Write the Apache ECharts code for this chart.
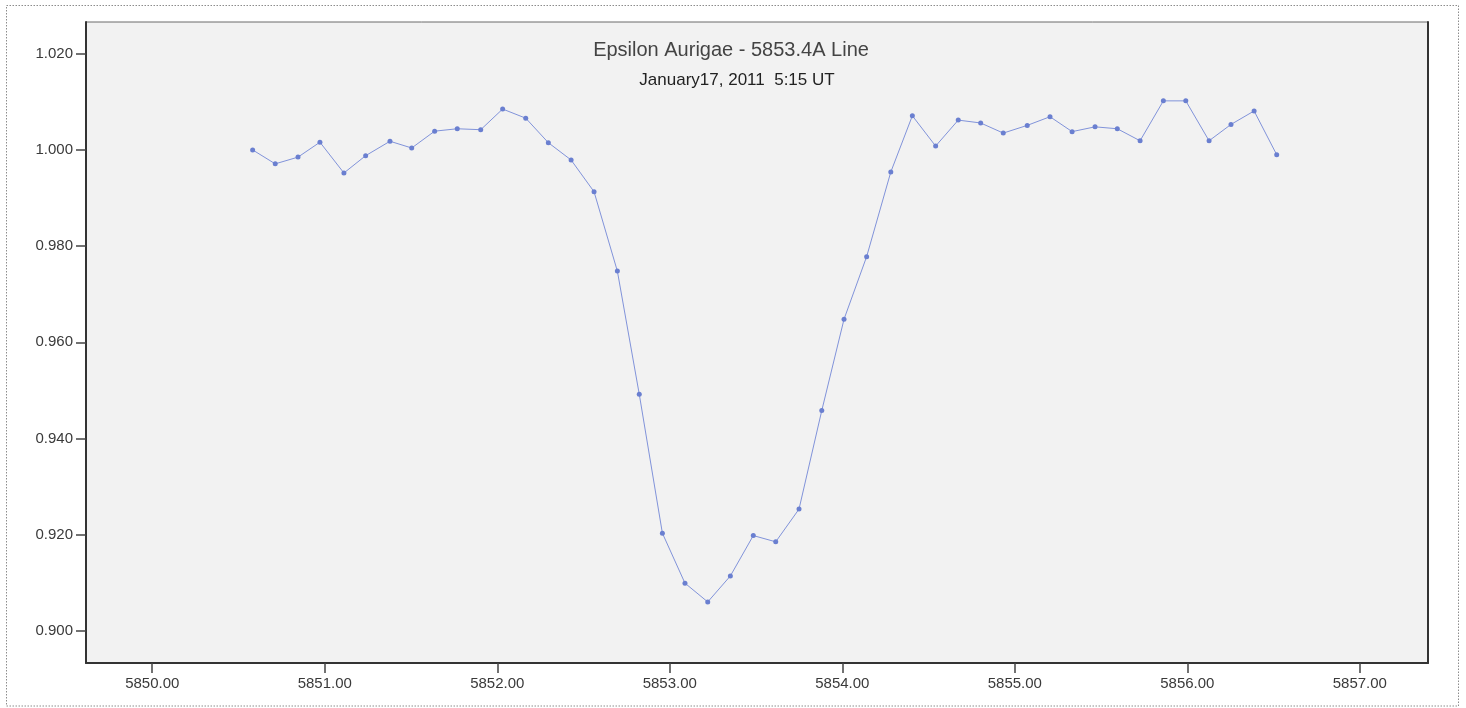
<!DOCTYPE html>
<html>
<head>
<meta charset="utf-8">
<title>Epsilon Aurigae - 5853.4A Line</title>
<script src="https://cdn.jsdelivr.net/npm/echarts@6/dist/echarts.min.js"></script>
<style>
  html, body { margin: 0; padding: 0; background: #ffffff; }
  #chart { width: 1466px; height: 708px; }
</style>
</head>
<body>
<div id="chart"></div>
<script>
// Wavelength (Angstrom) of each sample
const wavelengths = [
  5850.582, 5850.713, 5850.845, 5850.972, 5851.111, 5851.237, 5851.378, 5851.504,
  5851.637, 5851.768, 5851.904, 5852.031, 5852.165, 5852.296, 5852.428, 5852.561,
  5852.696, 5852.823, 5852.957, 5853.088, 5853.220, 5853.351, 5853.484, 5853.614,
  5853.749, 5853.881, 5854.010, 5854.141, 5854.281, 5854.406, 5854.541, 5854.672,
  5854.802, 5854.933, 5855.072, 5855.204, 5855.332, 5855.465, 5855.594, 5855.726,
  5855.861, 5855.991, 5856.126, 5856.253, 5856.387, 5856.518
];

// Normalised flux at each wavelength
const flux = [
  1.0000, 0.9971, 0.9985, 1.0016, 0.9952, 0.9988, 1.0018, 1.0004,
  1.0039, 1.0044, 1.0042, 1.0085, 1.0066, 1.0015, 0.9979, 0.9913,
  0.9748, 0.9492, 0.9203, 0.9099, 0.9060, 0.9114, 0.9198, 0.9185,
  0.9253, 0.9458, 0.9648, 0.9778, 0.9954, 1.0071, 1.0008, 1.0062,
  1.0056, 1.0035, 1.0051, 1.0069, 1.0038, 1.0048, 1.0044, 1.0019,
  1.0102, 1.0102, 1.0019, 1.0053, 1.0081, 0.9990
];

// Tick positions on each axis
const xTicks = [5850, 5851, 5852, 5853, 5854, 5855, 5856, 5857];
const yTicks = [0.900, 0.920, 0.940, 0.960, 0.980, 1.000, 1.020];

const titleText = 'Epsilon Aurigae - 5853.4A Line';
const subtitleText = 'January17, 2011  5:15 UT';

const points = wavelengths.map((w, i) => [w, flux[i]]);

const FONT = '"Liberation Sans", Arial, sans-serif';
const chart = echarts.init(document.getElementById('chart'), null, { renderer: 'canvas' });

chart.setOption({
  animation: false,
  backgroundColor: '#ffffff',
  grid: {
    left: 86, right: 38, top: 22, bottom: 45,
    show: true,
    backgroundColor: '#f2f2f2',
    borderColor: '#6a6a6a',
    borderWidth: 1
  },
  xAxis: {
    type: 'value',
    min: 5849.616,
    max: 5857.395,
    axisLine: { show: true, onZero: false, lineStyle: { color: '#333333', width: 2 } },
    axisTick: { show: true, inside: false, length: 10, customValues: xTicks,
      lineStyle: { color: '#444444', width: 1.5 } },
    axisLabel: {
      customValues: xTicks,
      margin: 13,
      fontFamily: FONT, fontSize: 15, color: '#3a3a3a',
      formatter: v => Number(v).toFixed(2)
    },
    splitLine: { show: false }
  },
  yAxis: [{
    type: 'value',
    min: 0.8933,
    max: 1.0266,
    axisLine: { show: true, onZero: false, lineStyle: { color: '#333333', width: 2 } },
    axisTick: { show: true, inside: false, length: 10, customValues: yTicks,
      lineStyle: { color: '#444444', width: 1.5 } },
    axisLabel: {
      customValues: yTicks,
      margin: 13,
      fontFamily: FONT, fontSize: 15, color: '#3a3a3a',
      formatter: v => Number(v).toFixed(3)
    },
    splitLine: { show: false }
  }, {
    // right frame edge of the plot area
    type: 'value',
    position: 'right',
    min: 0.8933,
    max: 1.0266,
    axisLine: { show: true, onZero: false, lineStyle: { color: '#333333', width: 2 } },
    axisTick: { show: false },
    axisLabel: { show: false },
    splitLine: { show: false }
  }],
  series: [{
    type: 'line',
    data: points,
    yAxisIndex: 0,
    symbol: 'circle',
    symbolSize: 5,
    showSymbol: true,
    lineStyle: { color: '#8193da', width: 1 },
    itemStyle: { color: '#6a7fd0', borderWidth: 0 }
  }],
  graphic: [
    {
      type: 'rect',
      silent: true,
      z: -10,
      shape: { x: 6.5, y: 5.5, width: 1452, height: 700.5 },
      style: { fill: null, stroke: '#8c8c8c', lineWidth: 1, lineDash: [1.5, 1.5] }
    },
    {
      type: 'text',
      x: 731, y: 50,
      style: {
        text: titleText,
        font: '20px ' + FONT,
        fill: '#444444',
        align: 'center',
        verticalAlign: 'middle'
      }
    },
    {
      type: 'text',
      x: 737, y: 80,
      style: {
        text: subtitleText,
        font: '17px ' + FONT,
        fill: '#222222',
        align: 'center',
        verticalAlign: 'middle'
      }
    }
  ]
});
</script>
</body>
</html>
